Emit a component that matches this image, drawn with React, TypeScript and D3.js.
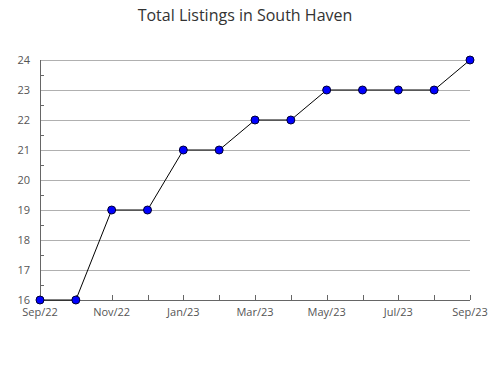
import React from "react";
import * as d3 from "d3";

const months = ["Sep/22","Oct/22","Nov/22","Dec/22","Jan/23","Feb/23","Mar/23","Apr/23","May/23","Jun/23","Jul/23","Aug/23","Sep/23"];
const values = [16,16,19,19,21,21,22,22,23,23,23,23,24];
const yTicks = [16,17,18,19,20,21,22,23,24];
const title = "Total Listings in South Haven";

export default function App() {
  const W = 490, H = 380;
  const left = 40, right = 470, top = 60, bottom = 300;
  const x = d3.scalePoint<string>().domain(months).range([left, right]);
  const y = d3.scaleLinear().domain([16, 24]).range([bottom, top]);
  const line = d3.line<number>().x((_, i) => x(months[i])!).y(d => y(d));
  const minor = d3.range(16.5, 24, 1);
  const font = "'Open Sans', 'DejaVu Sans', sans-serif";
  return (
    <svg width={W} height={H} style={{ position: "absolute", left: 0, top: 0, background: "#fff" }} fontFamily={font}>
      <text x={W / 2} y={21} textAnchor="middle" fontSize={16} fill="#333">{title}</text>
      {yTicks.map(t => (
        <g key={t}>
          <line x1={left} x2={right} y1={y(t)} y2={y(t)} stroke="#b0b0b0" strokeWidth={1} shapeRendering="crispEdges" />
          <text x={30} y={y(t) + 4} textAnchor="end" fontSize={11} fill="#555">{t}</text>
        </g>
      ))}
      {minor.map(t => (
        <line key={t} x1={left} x2={left + 4} y1={Math.round(y(t)) + 0.5} y2={Math.round(y(t)) + 0.5} stroke="#666" />
      ))}
      {months.map((m, i) => (
        <g key={m}>
          <line x1={Math.round(x(m)!) + 0.5} x2={Math.round(x(m)!) + 0.5} y1={bottom} y2={bottom - 5} stroke="#666" />
          {i % 2 === 0 && (
            <text x={x(m)!} y={316} textAnchor="middle" fontSize={11} fill="#555">{m}</text>
          )}
        </g>
      ))}
      <line x1={left + 0.5} x2={left + 0.5} y1={top} y2={bottom} stroke="#666" />
      <line x1={left} x2={right} y1={bottom + 0.5} y2={bottom + 0.5} stroke="#666" />
      <path d={line(values)!} fill="none" stroke="#000" strokeWidth={1} />
      {values.map((v, i) => (
        <circle key={i} cx={x(months[i])!} cy={y(v)} r={4} fill="#0000ff" stroke="#000033" strokeWidth={1} />
      ))}
    </svg>
  );
}
